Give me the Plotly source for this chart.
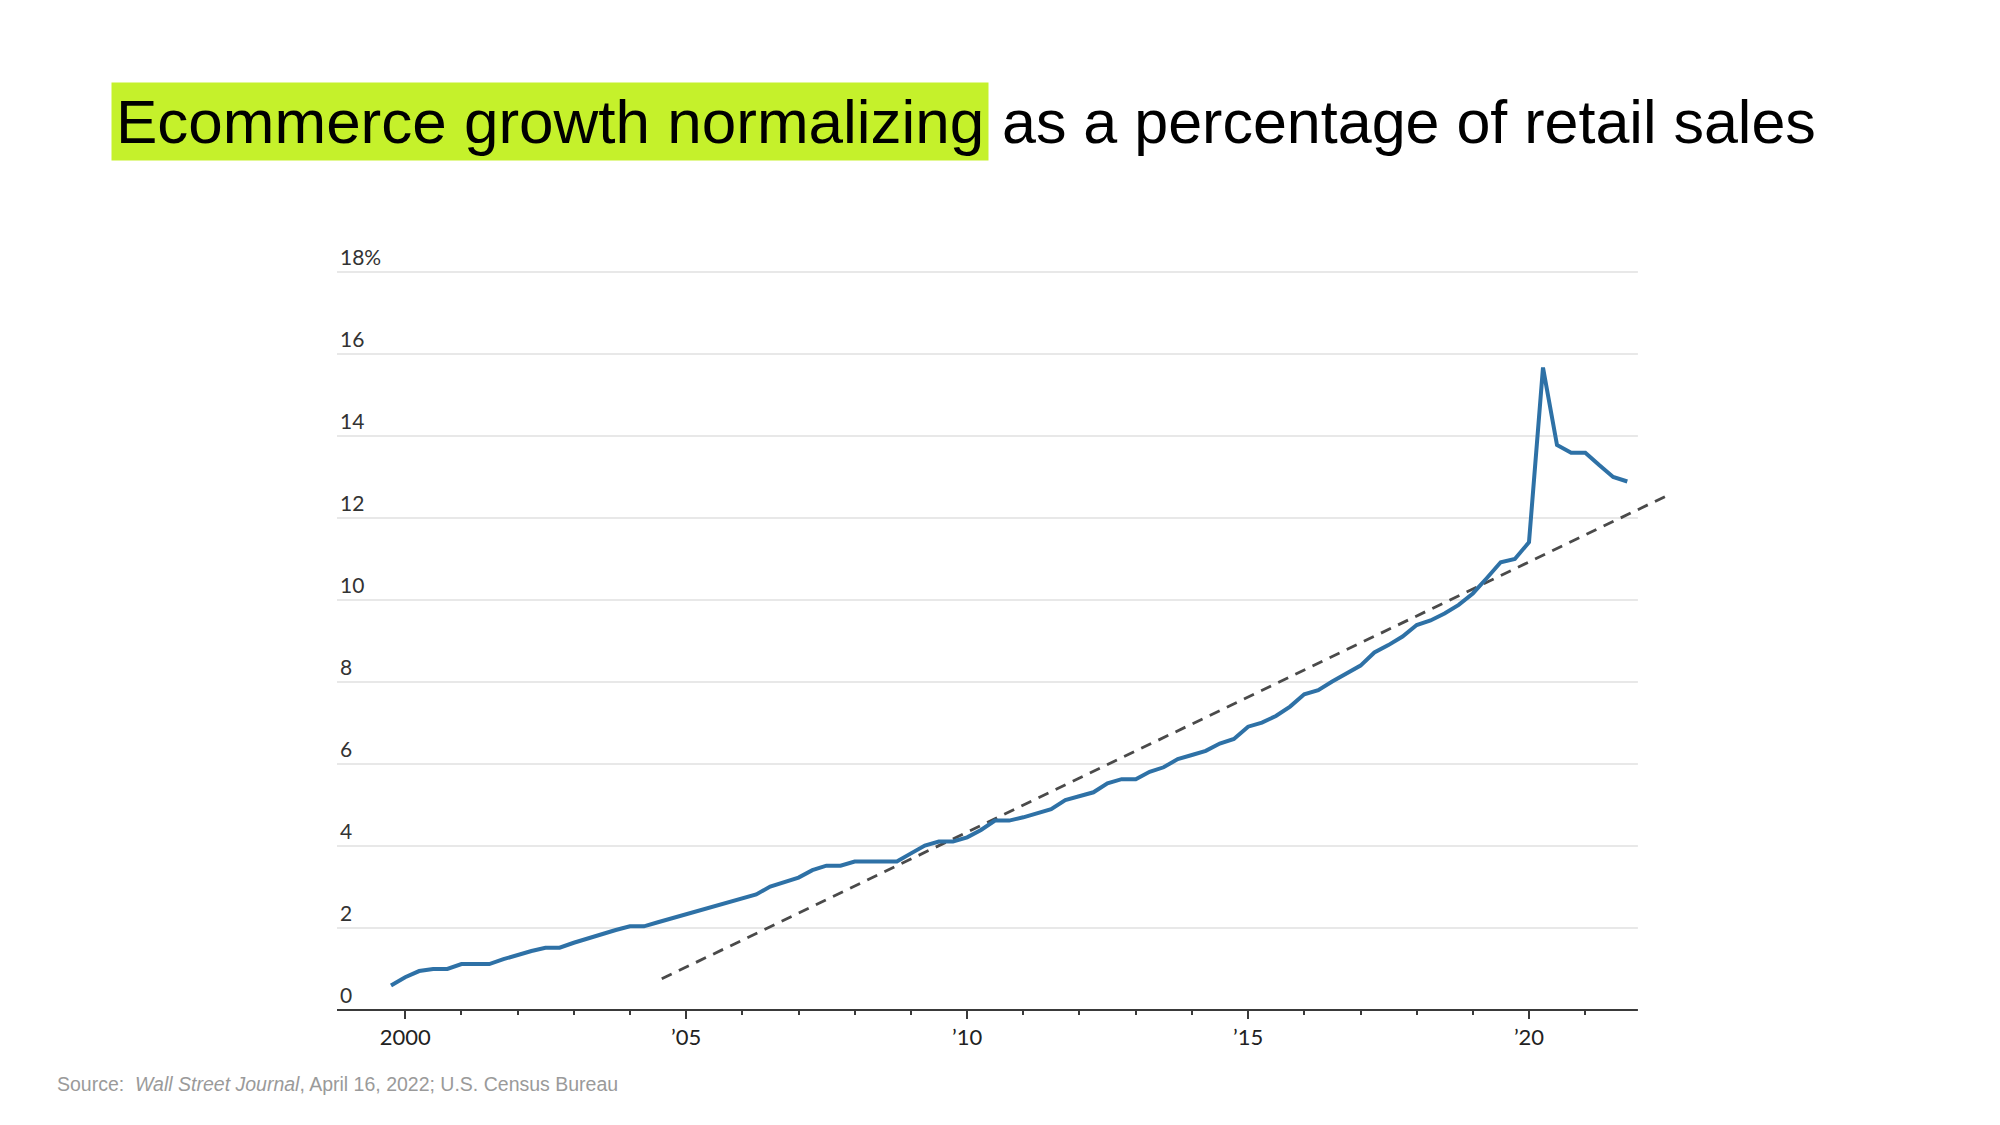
import plotly.graph_objects as go

# ---------------- data ----------------
quarters = ["1999-10",
            "2000-01", "2000-04", "2000-07", "2000-10",
            "2001-01", "2001-04", "2001-07", "2001-10",
            "2002-01", "2002-04", "2002-07", "2002-10",
            "2003-01", "2003-04", "2003-07", "2003-10",
            "2004-01", "2004-04", "2004-07", "2004-10",
            "2005-01", "2005-04", "2005-07", "2005-10",
            "2006-01", "2006-04", "2006-07", "2006-10",
            "2007-01", "2007-04", "2007-07", "2007-10",
            "2008-01", "2008-04", "2008-07", "2008-10",
            "2009-01", "2009-04", "2009-07", "2009-10",
            "2010-01", "2010-04", "2010-07", "2010-10",
            "2011-01", "2011-04", "2011-07", "2011-10",
            "2012-01", "2012-04", "2012-07", "2012-10",
            "2013-01", "2013-04", "2013-07", "2013-10",
            "2014-01", "2014-04", "2014-07", "2014-10",
            "2015-01", "2015-04", "2015-07", "2015-10",
            "2016-01", "2016-04", "2016-07", "2016-10",
            "2017-01", "2017-04", "2017-07", "2017-10",
            "2018-01", "2018-04", "2018-07", "2018-10",
            "2019-01", "2019-04", "2019-07", "2019-10",
            "2020-01", "2020-04", "2020-07", "2020-10",
            "2021-01", "2021-04", "2021-07", "2021-10"]

ecommerce_share = [0.6,
                   0.8, 0.95, 1.0, 1.0,
                   1.12, 1.12, 1.12, 1.24,
                   1.35, 1.44, 1.52, 1.52,
                   1.64, 1.75, 1.85, 1.95,
                   2.04, 2.04, 2.14, 2.24,
                   2.34, 2.44, 2.53, 2.63,
                   2.72, 2.82, 3.01, 3.12,
                   3.23, 3.41, 3.52, 3.52,
                   3.62, 3.62, 3.62, 3.62,
                   3.82, 4.01, 4.11, 4.11,
                   4.21, 4.39, 4.62, 4.62,
                   4.70, 4.80, 4.90, 5.12,
                   5.22, 5.31, 5.53, 5.63,
                   5.63, 5.81, 5.92, 6.12,
                   6.22, 6.32, 6.50, 6.61,
                   6.91, 7.01, 7.17, 7.40,
                   7.70, 7.80, 8.01, 8.20,
                   8.40, 8.72, 8.90, 9.11,
                   9.39, 9.50, 9.67, 9.88,
                   10.16, 10.53, 10.92, 11.0,
                   11.41, 15.67, 13.78, 13.59,
                   13.59, 13.29, 13.0, 12.89]

trend_dates = ["2004-07-26", "2022-06-24"]
trend_values = [0.76, 12.56]

x_tickvals = ["2000-01-01", "2005-01-01", "2010-01-01", "2015-01-01", "2020-01-01"]
x_ticktext = ["2000", "\u201905", "\u201910", "\u201915", "\u201920"]
x_minor_tickvals = ["2001-01-01", "2002-01-01", "2003-01-01", "2004-01-01",
                    "2006-01-01", "2007-01-01", "2008-01-01", "2009-01-01",
                    "2011-01-01", "2012-01-01", "2013-01-01", "2014-01-01",
                    "2016-01-01", "2017-01-01", "2018-01-01", "2019-01-01",
                    "2021-01-01"]

y_tickvals = [0, 2, 4, 6, 8, 10, 12, 14, 16, 18]
y_ticktext = ["0", "2", "4", "6", "8", "10", "12", "14", "16", "18%"]

title_highlight = "Ecommerce growth normalizing"
title_rest = "as a percentage of retail sales"
source_text = ("Source:\u00a0 <i>Wall Street Journal</i>, April 16, 2022; "
               "U.S. Census Bureau")

# ---------------- layout constants ----------------
X_RANGE = ["1998-10-15", "2022-08-07"]
Y_RANGE = [0, 19]
AXIS_END = "2021-12-09"
BLUE = "#2e71a6"
TICK_FONT = "Lato, 'Open Sans', sans-serif"
TITLE_FONT = "'Liberation Sans', Arial, Helvetica, sans-serif"

fig = go.Figure()

fig.add_trace(go.Scatter(
    x=trend_dates, y=trend_values, mode="lines",
    line=dict(color="#4a4a4a", width=2.8, dash="11px,8px"),
    hoverinfo="skip", showlegend=False))

fig.add_trace(go.Scatter(
    x=quarters, y=ecommerce_share, mode="lines",
    line=dict(color=BLUE, width=4),
    showlegend=False))

# gridlines (end where the axis ends, while the trend line runs past it)
for v in y_tickvals[1:]:
    fig.add_shape(type="line", xref="x", yref="y",
                  x0=X_RANGE[0], x1=AXIS_END, y0=v, y1=v,
                  line=dict(color="#e1e1e1", width=1.6), layer="below")
# x axis baseline
fig.add_shape(type="line", xref="x", yref="paper",
              x0=X_RANGE[0], x1=AXIS_END, y0=0, y1=0,
              line=dict(color="#3a3a3a", width=2), layer="above")

fig.update_xaxes(
    type="date", range=X_RANGE,
    tickmode="array", tickvals=x_tickvals, ticktext=x_ticktext,
    ticks="outside", ticklen=8, tickwidth=2, tickcolor="#3a3a3a",
    minor=dict(tickmode="array", tickvals=x_minor_tickvals,
               ticks="outside", ticklen=4, tickwidth=2, tickcolor="#3a3a3a",
               showgrid=False),
    showgrid=False, showline=False, zeroline=False,
    tickfont=dict(family=TICK_FONT, size=22, color="#222222"),
)

fig.update_yaxes(
    range=Y_RANGE,
    tickmode="array", tickvals=y_tickvals, ticktext=y_ticktext,
    ticklabelposition="inside top", ticks="",
    showgrid=False, showline=False, zeroline=False,
    tickfont=dict(family=TICK_FONT, size=21, color="#333333"),
)

# plot area: x 329..1667, y 223..1002 in figure coords
fig.add_annotation(
    xref="paper", yref="paper", x=-0.1686, y=1.1402,
    xanchor="left", yanchor="middle",
    text=title_highlight, showarrow=False, bgcolor="#c5f12b", borderpad=4,
    font=dict(family=TITLE_FONT, size=62, color="#000000"))
fig.add_annotation(
    xref="paper", yref="paper", x=0.4933, y=1.1402,
    xanchor="left", yanchor="middle",
    text=title_rest, showarrow=False, borderpad=4,
    font=dict(family=TITLE_FONT, size=61, color="#000000"))
fig.add_annotation(
    xref="paper", yref="paper", x=-0.2108, y=-0.0947,
    xanchor="left", yanchor="middle",
    text=source_text, showarrow=False,
    font=dict(family=TITLE_FONT, size=19.5, color="#9a9a9a"))

fig.update_layout(
    width=2000, height=1125,
    margin=dict(l=329, r=333, t=223, b=123),
    paper_bgcolor="white", plot_bgcolor="white",
    showlegend=False,
)

fig.write_html("out.html")
